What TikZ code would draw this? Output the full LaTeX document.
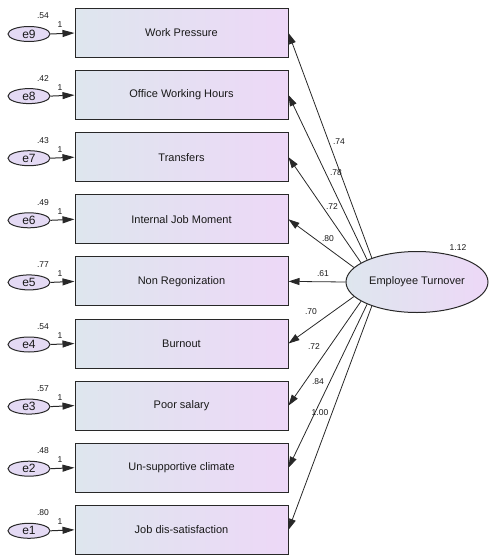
\documentclass[tikz,border=0pt]{standalone}
\usepackage{fontspec}
\setmainfont{Liberation Sans}
\usetikzlibrary{shapes.geometric,arrows.meta}
\definecolor{bl}{RGB}{222,230,238}
\definecolor{pk}{RGB}{237,216,247}
\definecolor{ev}{RGB}{228,218,244}
\definecolor{ln}{RGB}{40,40,40}
\definecolor{tx}{RGB}{25,25,25}
\begin{document}
\begin{tikzpicture}[x=1pt,y=-1pt,
  boxnode/.style={draw=ln, line width=1pt, left color=bl, right color=pk,
    minimum width=213pt, minimum height=49pt, inner sep=0pt,
    font=\fontsize{11}{13}\selectfont, text=tx},
  errnode/.style={ellipse, draw=ln, line width=1pt, fill=ev,
    minimum width=42pt, minimum height=15pt, inner sep=0pt,
    font=\fontsize{12}{13}\selectfont, text=tx},
  latnode/.style={ellipse, draw=ln, line width=1pt, left color=bl, right color=pk,
    minimum width=142pt, minimum height=61pt, inner sep=0pt,
    font=\fontsize{11}{13}\selectfont, text=tx},
  arr/.style={-{Triangle[length=11pt,width=7pt]}, line width=0.8pt, draw=ln},
  earr/.style={-{Triangle[length=12pt,width=7pt]}, line width=1pt, draw=ln},
  num/.style={font=\fontsize{8.5}{10}\selectfont, inner sep=0pt, text=tx}]
\useasboundingbox (0,0) rectangle (488,555);
\node[latnode] (et) at (417,282) {Employee Turnover};
\node[num] (v0) at (458,248) {1.12};
\foreach \i/\t/\v/\w/\a/\wx/\wy in {
1/Work Pressure/.54/.74/152/339/142,
2/Office Working Hours/.42/.78/156/336/173,
3/Transfers/.43/.72/161/332/207,
4/Internal Job Moment/.49/.80/167/328/239,
5/Non Regonization/.77/.61/180/323/274,
6/Burnout/.54/.70/193/311/312,
7/Poor salary/.57/.72/199/314/347,
8/Un-supportive climate/.48/.84/204/318/382,
9/Job dis-satisfaction/.80/1.00/208/320/413}{
  \pgfmathsetmacro{\yy}{33+(\i-1)*62.1}
  \pgfmathtruncatemacro{\ei}{10-\i}
  \node[boxnode] (b\i) at (181.5,\yy) {\t};
  \node[errnode] (e\i) at (29,\yy+1) {e\ei};
  \draw[earr] (e\i.east) -- (b\i.west);
  \node[num] (one\i) at (60,\yy-8) {1};
  \node[num] (var\i) at (43,\yy-17) {\v};
  \draw[arr] (et.\a) -- (b\i.east);
  \node[num] (w\i) at (\wx,\wy) {\w};
}
\end{tikzpicture}
\end{document}
